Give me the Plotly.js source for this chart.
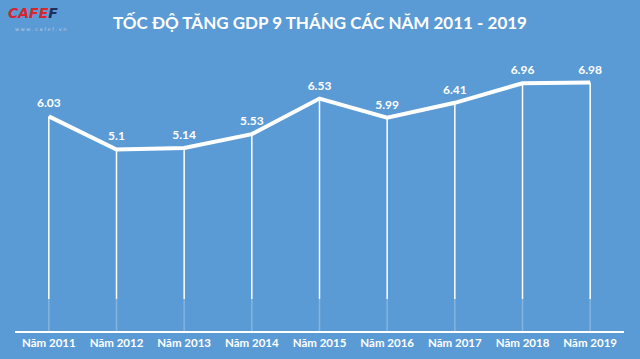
<!DOCTYPE html>
<html>
<head>
<meta charset="utf-8">
<script src="https://cdn.plot.ly/plotly-3.0.1.min.js"></script>
<style>html,body{margin:0;padding:0;background:#5b9bd5;}#chart{width:640px;height:359px;}</style>
</head>
<body>
<div id="chart"></div>
<script>
const categories = ["Năm 2011","Năm 2012","Năm 2013","Năm 2014","Năm 2015","Năm 2016","Năm 2017","Năm 2018","Năm 2019"];
const growth = [6.03, 5.1, 5.14, 5.53, 6.53, 5.99, 6.41, 6.96, 6.98];
const labels = ["6.03","5.1","5.14","5.53","6.53","5.99","6.41","6.96","6.98"];

const fadeLevel = 0.9;
const bg = "#5b9bd5";

const traces = [
  {
    x: categories, y: categories.map(() => fadeLevel), type: "scatter", mode: "markers",
    marker: {size: 0.1, color: "rgba(0,0,0,0)"},
    error_y: {type: "data", symmetric: false, array: categories.map(() => 0), arrayminus: categories.map(() => fadeLevel), color: "rgba(255,255,255,0.25)", thickness: 1.5, width: 0},
    hoverinfo: "skip", showlegend: false
  },
  {
    x: categories, y: growth, type: "scatter", mode: "markers",
    marker: {size: 0.1, color: "rgba(0,0,0,0)"},
    error_y: {type: "data", symmetric: false, array: growth.map(() => 0), arrayminus: growth.map(v => v - fadeLevel), color: "#ffffff", thickness: 1.5, width: 0},
    hoverinfo: "skip", showlegend: false
  },
  {
    x: categories, y: growth, type: "scatter", mode: "lines+markers+text",
    line: {color: "#ffffff", width: 4},
    marker: {size: 8, color: "rgba(0,0,0,0)"},
    text: labels, textposition: "top center",
    textfont: {family: "Lato, 'Open Sans', sans-serif", size: 12, color: "#ffffff", weight: "bold"},
    cliponaxis: false, showlegend: false
  }
];

const layout = {
  width: 640, height: 359,
  paper_bgcolor: bg, plot_bgcolor: bg,
  margin: {l: 15, r: 16, t: 64, b: 28},
  showlegend: false,
  title: {text: "<b>TỐC ĐỘ TĂNG GDP 9 THÁNG CÁC NĂM 2011 - 2019</b>", x: 0.5, xanchor: "center", y: 0.935, yanchor: "middle",
          font: {family: "Lato, 'Open Sans', sans-serif", size: 17, color: "#ffffff"}},
  xaxis: {
    type: "category", range: [-0.5, 8.5], showgrid: false, zeroline: false,
    showline: true, linecolor: "#ffffff", linewidth: 2, ticks: "",
    tickfont: {family: "Lato, 'Open Sans', sans-serif", size: 11.5, color: "#ffffff", weight: "bold"},
    fixedrange: true
  },
  yaxis: {range: [0, 7.5], visible: false, showgrid: false, zeroline: false, fixedrange: true},
  annotations: [
    {xref: "paper", yref: "paper", x: -0.015, y: 1.228, xanchor: "left", yanchor: "top", showarrow: false,
     text: "<b><i><span style='color:#d9232d'>CAFE</span><span style='color:#1f2f5c'>F</span></i></b>",
     font: {family: "'DejaVu Sans', sans-serif", size: 14}},
    {xref: "paper", yref: "paper", x: -0.003, y: 1.15, xanchor: "left", yanchor: "top", showarrow: false,
     text: "w w w . c a f e f . v n", font: {family: "'DejaVu Sans', sans-serif", size: 5, color: "#b9cde6"}}
  ]
};

Plotly.newPlot("chart", traces, layout, {displayModeBar: false, staticPlot: true});
</script>
</body>
</html>
